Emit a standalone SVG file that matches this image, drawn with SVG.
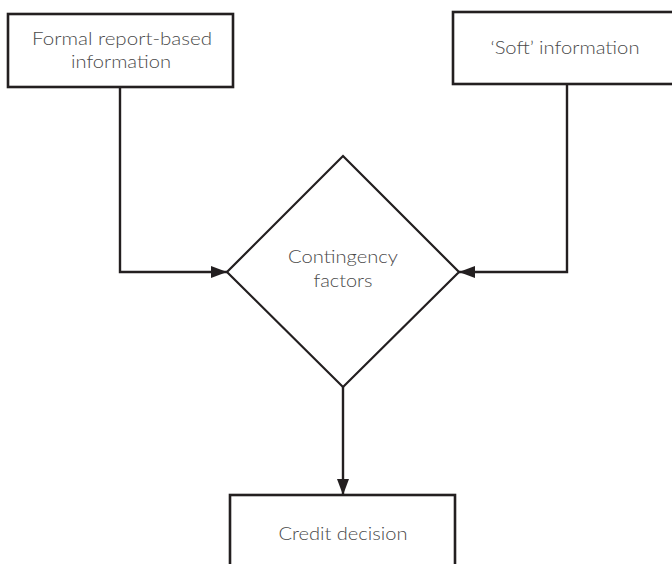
<svg xmlns="http://www.w3.org/2000/svg" width="672" height="564" viewBox="0 0 672 564">
<style>
.box{fill:#fff;stroke:#231f20;stroke-width:2.6}
.dia{fill:#fff;stroke:#231f20;stroke-width:2.2}
.con{fill:none;stroke:#231f20;stroke-width:2.4}
.t{font-family:Lato,"Liberation Sans",sans-serif;font-size:18px;font-weight:300;fill:#4a4a4a;text-anchor:middle}
</style>
<defs>
<marker id="arr" viewBox="0 0 16 12" refX="16" refY="6" markerWidth="16" markerHeight="12" markerUnits="userSpaceOnUse" orient="auto">
<path d="M0,0 L16,6 L0,12 Z" fill="#231f20"/>
</marker>
</defs>
<g id="connectors">
<polyline class="con" points="120,87 120,272 227,272" marker-end="url(#arr)"/>
<polyline class="con" points="567,84 567,272 459,272" marker-end="url(#arr)"/>
<line class="con" x1="343" y1="387" x2="343" y2="495" marker-end="url(#arr)"/>
</g>
<g id="formal">
<rect class="box" x="8" y="14" width="225" height="73"/>
<text class="t" x="122" y="45" textLength="180" lengthAdjust="spacingAndGlyphs">Formal report-based</text>
<text class="t" x="121" y="68" textLength="100" lengthAdjust="spacingAndGlyphs">information</text>
</g>
<g id="soft">
<rect class="box" x="453" y="12" width="230" height="72"/>
<text class="t" x="565" y="54" textLength="149" lengthAdjust="spacingAndGlyphs">‘Soft’ information</text>
</g>
<g id="contingency">
<polygon class="dia" points="343,156 459,272 343,387 227,272"/>
<text class="t" x="343" y="263" textLength="110" lengthAdjust="spacingAndGlyphs">Contingency</text>
<text class="t" x="343" y="287" textLength="59" lengthAdjust="spacingAndGlyphs">factors</text>
</g>
<g id="credit">
<rect class="box" x="230" y="495" width="225" height="80"/>
<text class="t" x="343" y="540" textLength="129" lengthAdjust="spacingAndGlyphs">Credit decision</text>
</g>
</svg>
